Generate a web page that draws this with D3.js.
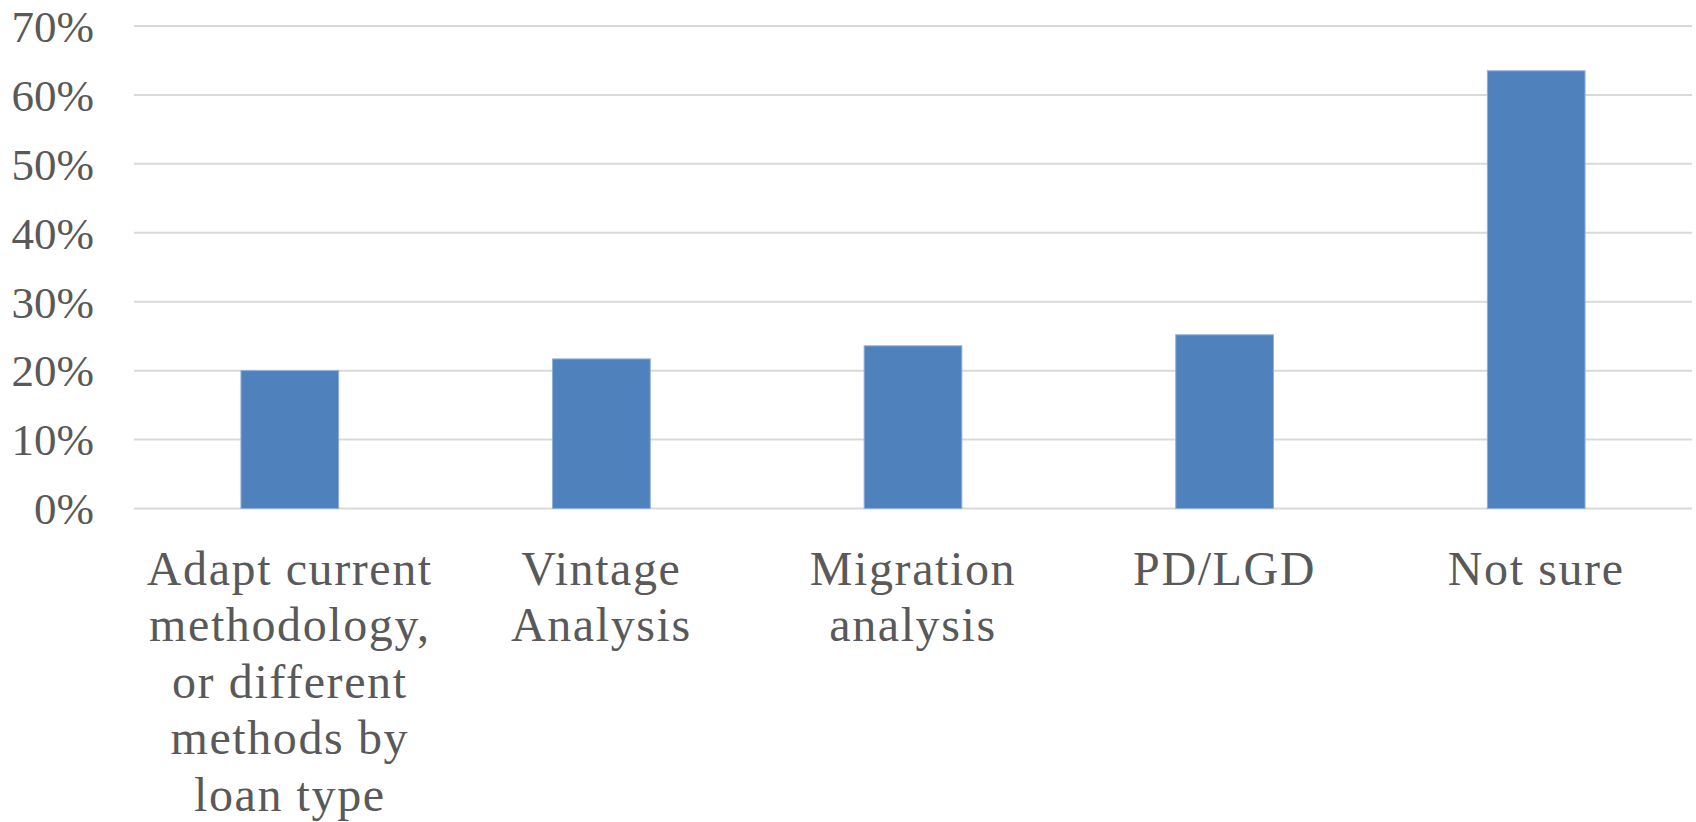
<!DOCTYPE html>
<html>
<head>
<meta charset="utf-8">
<script src="https://cdn.jsdelivr.net/npm/d3@7"></script>
<style>
  html, body { margin: 0; padding: 0; background: #ffffff; }
  svg { display: block; }
</style>
</head>
<body>
<svg id="chart" width="1696" height="822"></svg>
<script>
// Survey responses: preferred CECL methodology
const categories = [
  "Adapt current methodology, or different methods by loan type",
  "Vintage Analysis",
  "Migration analysis",
  "PD/LGD",
  "Not sure"
];
const shares = [0.200, 0.217, 0.236, 0.252, 0.635];
const yTicks = [0, 0.1, 0.2, 0.3, 0.4, 0.5, 0.6, 0.7];

const width = 1696, height = 822;
const margin = { top: 26, right: 4, bottom: 313.5, left: 134 };

const svg = d3.select("#chart");
const font = "'Liberation Serif', 'DejaVu Serif', serif";
const textColor = "#595959";

const x = d3.scaleBand()
  .domain(categories)
  .range([margin.left, width - margin.right])
  .paddingInner(0.6865)
  .paddingOuter(0.6865 / 2);

const y = d3.scaleLinear()
  .domain([0, 0.7])
  .range([height - margin.bottom, margin.top]);

// horizontal gridlines
svg.append("g")
  .selectAll("line")
  .data(yTicks)
  .join("line")
  .attr("x1", margin.left)
  .attr("x2", width - margin.right)
  .attr("y1", d => y(d))
  .attr("y2", d => y(d))
  .attr("stroke", "#d9d9d9")
  .attr("stroke-width", 2);

// y axis labels
const yAxis = d3.axisLeft(y)
  .tickValues(yTicks)
  .tickFormat(d3.format(".0%"))
  .tickSize(0)
  .tickPadding(40);

const yg = svg.append("g")
  .attr("transform", `translate(${margin.left},0)`)
  .call(yAxis);
yg.select(".domain").remove();
yg.selectAll("text")
  .attr("font-family", font)
  .attr("font-size", 45)
  .attr("fill", textColor)
  .attr("dy", "0.34em");

// bars
svg.append("g")
  .selectAll("rect")
  .data(categories)
  .join("rect")
  .attr("x", d => x(d))
  .attr("width", x.bandwidth())
  .attr("y", (d, i) => y(shares[i]))
  .attr("height", (d, i) => y(0) - y(shares[i]))
  .attr("fill", "#4f81bd")
  .attr("stroke", "#8eaedb")
  .attr("stroke-width", 1);

// category labels, wrapped to fit within each category slot
const maxLineWidth = x.step() - 14;
const labelSize = 48;
const lineHeight = 56.5;
const firstBaseline = y(0) + 76;

const labels = svg.append("g")
  .selectAll("text")
  .data(categories)
  .join("text")
  .attr("x", d => x(d) + x.bandwidth() / 2)
  .attr("y", firstBaseline)
  .attr("text-anchor", "middle")
  .attr("font-family", font)
  .attr("font-size", labelSize)
  .attr("letter-spacing", 1.6)
  .attr("fill", textColor);

labels.each(function(d) {
  const text = d3.select(this);
  const cx = +text.attr("x");
  const words = d.split(" ");
  let lines = [];
  let line = [];
  const probe = text.append("tspan");
  words.forEach(w => {
    const trial = line.concat(w).join(" ");
    probe.text(trial);
    if (probe.node().getComputedTextLength() > maxLineWidth && line.length) {
      lines.push(line.join(" "));
      line = [w];
    } else {
      line.push(w);
    }
  });
  if (line.length) lines.push(line.join(" "));
  probe.remove();
  lines.forEach((l, i) => {
    text.append("tspan")
      .attr("x", cx)
      .attr("y", firstBaseline + i * lineHeight)
      .text(l);
  });
});
</script>
</body>
</html>
